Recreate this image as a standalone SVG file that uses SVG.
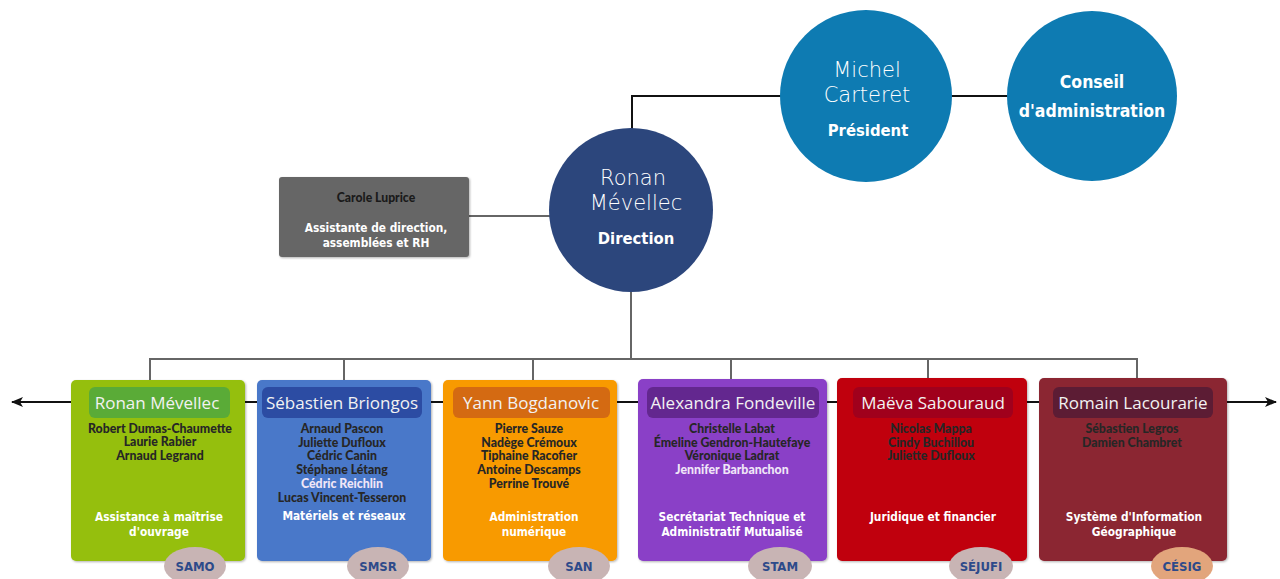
<svg xmlns="http://www.w3.org/2000/svg" width="1280" height="579" viewBox="0 0 1280 579">
<defs>
<marker id="arr" viewBox="0 0 12 10" refX="11" refY="5" markerWidth="12" markerHeight="10" markerUnits="userSpaceOnUse" orient="auto-start-reverse">
<path d="M0,0 L12,5 L0,10 L3,5 Z" fill="#111"/>
</marker>
<filter id="sh" x="-10%" y="-10%" width="120%" height="120%">
<feDropShadow dx="1" dy="1" stdDeviation="1.2" flood-color="#000" flood-opacity="0.3"/>
</filter>
<style>
.light{font-family:"DejaVu Sans","Open Sans",sans-serif;font-weight:200;fill:#fff;font-size:21px;text-anchor:middle}
.name{font-family:"Open Sans","Liberation Sans",sans-serif;font-weight:400;font-size:17px;fill:#f2f2f2;text-anchor:middle}
.mem{font-family:Lato,"Liberation Sans",sans-serif;font-weight:900;font-size:12.3px;fill:#262626;text-anchor:middle}
.meml{fill:#f0e6f7}
.ttl{font-family:"DejaVu Sans",sans-serif;font-stretch:condensed;font-weight:700;font-size:11.8px;fill:#fff;text-anchor:middle}
.badge{font-family:"DejaVu Sans",sans-serif;font-stretch:condensed;font-weight:700;font-size:13px;fill:#2d4a8a;text-anchor:middle}
.big{font-family:"DejaVu Sans",sans-serif;font-stretch:condensed;font-weight:700;fill:#fff;text-anchor:middle}
.box{filter:url(#sh)}
.conn{fill:none;stroke:#111;stroke-width:2}
.connG{fill:none;stroke:#666;stroke-width:2}
</style>
</defs>
<rect width="1280" height="579" fill="#fff"/>

<g id="connectors">
<line class="conn" x1="12" y1="402" x2="1276" y2="402" stroke-width="1.5" marker-start="url(#arr)" marker-end="url(#arr)"/>
<polyline class="conn" points="632,130 632,96 782,96"/>
<line class="conn" x1="950" y1="96" x2="1009" y2="96"/>
<line class="connG" x1="469" y1="216" x2="551" y2="216"/>
<polyline class="connG" points="631,290 631,359"/>
<polyline class="connG" points="150,380 150,359 1137,359 1137,380"/>
<line class="connG" x1="344" y1="359" x2="344" y2="380"/>
<line class="connG" x1="533" y1="359" x2="533" y2="380"/>
<line class="connG" x1="731" y1="359" x2="731" y2="380"/>
<line class="connG" x1="928" y1="359" x2="928" y2="380"/>
</g>

<g id="conseil">
<circle cx="1092" cy="96" r="85" fill="#0e7bb2"/>
<text class="big" x="1092" y="88" font-size="17.5">Conseil</text>
<text class="big" x="1092" y="117" font-size="17.5">d'administration</text>
</g>

<g id="president">
<circle cx="866" cy="96" r="86" fill="#0e7bb2"/>
<text class="light" x="867" y="77">Michel</text>
<text class="light" x="867" y="102">Carteret</text>
<text class="big" x="868" y="136" font-size="16.5">Président</text>
</g>

<g id="direction">
<circle cx="631" cy="210" r="82" fill="#2c467c"/>
<text class="light" x="633" y="185">Ronan</text>
<text class="light" x="636" y="210">Mévellec</text>
<text class="big" x="636" y="244" font-size="16.5">Direction</text>
</g>

<g id="assistante">
<rect class="box" x="279" y="177" width="190" height="80" rx="3" fill="#666"/>
<text x="376" y="202" font-family="Lato,'Liberation Sans',sans-serif" font-weight="900" font-size="12.2" fill="#1a1a1a" text-anchor="middle">Carole Luprice</text>
<text class="ttl" x="376" y="232" font-size="12.4">Assistante de direction,</text>
<text class="ttl" x="376" y="247" font-size="12.4">assemblées et RH</text>
</g>

<g id="samo">
<rect class="box" x="71" y="380" width="174" height="181" rx="5" fill="#95bf10"/>
<rect x="89" y="387" width="141" height="31" rx="6" fill="#5aab37"/>
<text class="name" x="157" y="409">Ronan Mévellec</text>
<text class="mem" x="160" y="433">Robert Dumas-Chaumette</text>
<text class="mem" x="160" y="446">Laurie Rabier</text>
<text class="mem" x="160" y="460">Arnaud Legrand</text>
<text class="ttl" x="159" y="521">Assistance à maîtrise</text>
<text class="ttl" x="159" y="536">d'ouvrage</text>
<ellipse cx="195" cy="566" rx="31" ry="19" fill="#c8b4b4"/>
<text class="badge" x="195" y="571">SAMO</text>
</g>

<g id="smsr">
<rect class="box" x="257" y="380" width="174" height="181" rx="5" fill="#4a78c9"/>
<rect x="262" y="387" width="160" height="31" rx="6" fill="#2c4ca3"/>
<text class="name" x="342" y="409">Sébastien Briongos</text>
<text class="mem" x="342" y="433">Arnaud Pascon</text>
<text class="mem" x="342" y="447">Juliette Dufloux</text>
<text class="mem" x="342" y="460">Cédric Canin</text>
<text class="mem" x="342" y="474">Stéphane Létang</text>
<text class="mem meml" x="342" y="488">Cédric Reichlin</text>
<text class="mem" x="342" y="502">Lucas Vincent-Tesseron</text>
<text class="ttl" x="344" y="520">Matériels et réseaux</text>
<ellipse cx="378" cy="566" rx="31" ry="19" fill="#c8b4b4"/>
<text class="badge" x="378" y="571">SMSR</text>
</g>

<g id="san">
<rect class="box" x="443" y="380" width="174" height="181" rx="5" fill="#f89a00"/>
<rect x="453" y="387" width="157" height="31" rx="6" fill="#d46a12"/>
<text class="name" x="531" y="409">Yann Bogdanovic</text>
<text class="mem" x="529" y="433">Pierre Sauze</text>
<text class="mem" x="529" y="447">Nadège Crémoux</text>
<text class="mem" x="529" y="460">Tiphaine Racofier</text>
<text class="mem" x="529" y="474">Antoine Descamps</text>
<text class="mem" x="529" y="488">Perrine Trouvé</text>
<text class="ttl" x="534" y="521">Administration</text>
<text class="ttl" x="534" y="536">numérique</text>
<ellipse cx="579" cy="566" rx="31" ry="19" fill="#c8b4b4"/>
<text class="badge" x="579" y="571">SAN</text>
</g>

<g id="stam">
<rect class="box" x="638" y="379" width="189" height="182" rx="5" fill="#8a3fc7"/>
<rect x="647" y="387" width="172" height="31" rx="6" fill="#63278f"/>
<text class="name" x="733" y="409">Alexandra Fondeville</text>
<text class="mem" x="732" y="433">Christelle Labat</text>
<text class="mem" x="732" y="447">Émeline Gendron-Hautefaye</text>
<text class="mem" x="732" y="460">Véronique Ladrat</text>
<text class="mem meml" x="732" y="474">Jennifer Barbanchon</text>
<text class="ttl" x="732" y="521">Secrétariat Technique et</text>
<text class="ttl" x="732" y="536">Administratif Mutualisé</text>
<ellipse cx="780" cy="566" rx="32" ry="19" fill="#c8b4b4"/>
<text class="badge" x="780" y="571">STAM</text>
</g>

<g id="sejufi">
<rect class="box" x="837" y="378" width="190" height="183" rx="5" fill="#c00008"/>
<rect x="853" y="387" width="160" height="31" rx="6" fill="#a0001c"/>
<text class="name" x="933" y="409">Maëva Sabouraud</text>
<text class="mem" x="931" y="433" fill="#3a0a0a">Nicolas Mappa</text>
<text class="mem" x="931" y="447" fill="#1a0000">Cindy Buchillou</text>
<text class="mem" x="931" y="460" fill="#3a0a0a">Juliette Dufloux</text>
<text class="ttl" x="933" y="521">Juridique et financier</text>
<ellipse cx="981" cy="566" rx="32" ry="19" fill="#c8b4b4"/>
<text class="badge" x="981" y="571">SÉJUFI</text>
</g>

<g id="cesig">
<rect class="box" x="1039" y="378" width="188" height="183" rx="5" fill="#8b2633"/>
<rect x="1053" y="387" width="160" height="31" rx="6" fill="#5c1c34"/>
<text class="name" x="1133" y="409">Romain Lacourarie</text>
<text class="mem" x="1132" y="433" fill="#2a0a0a">Sébastien Legros</text>
<text class="mem" x="1132" y="447" fill="#2a0a0a">Damien Chambret</text>
<text class="ttl" x="1134" y="521">Système d'Information</text>
<text class="ttl" x="1134" y="536">Géographique</text>
<ellipse cx="1182" cy="566" rx="31" ry="19" fill="#e2a57c"/>
<text class="badge" x="1182" y="571">CÉSIG</text>
</g>
</svg>
